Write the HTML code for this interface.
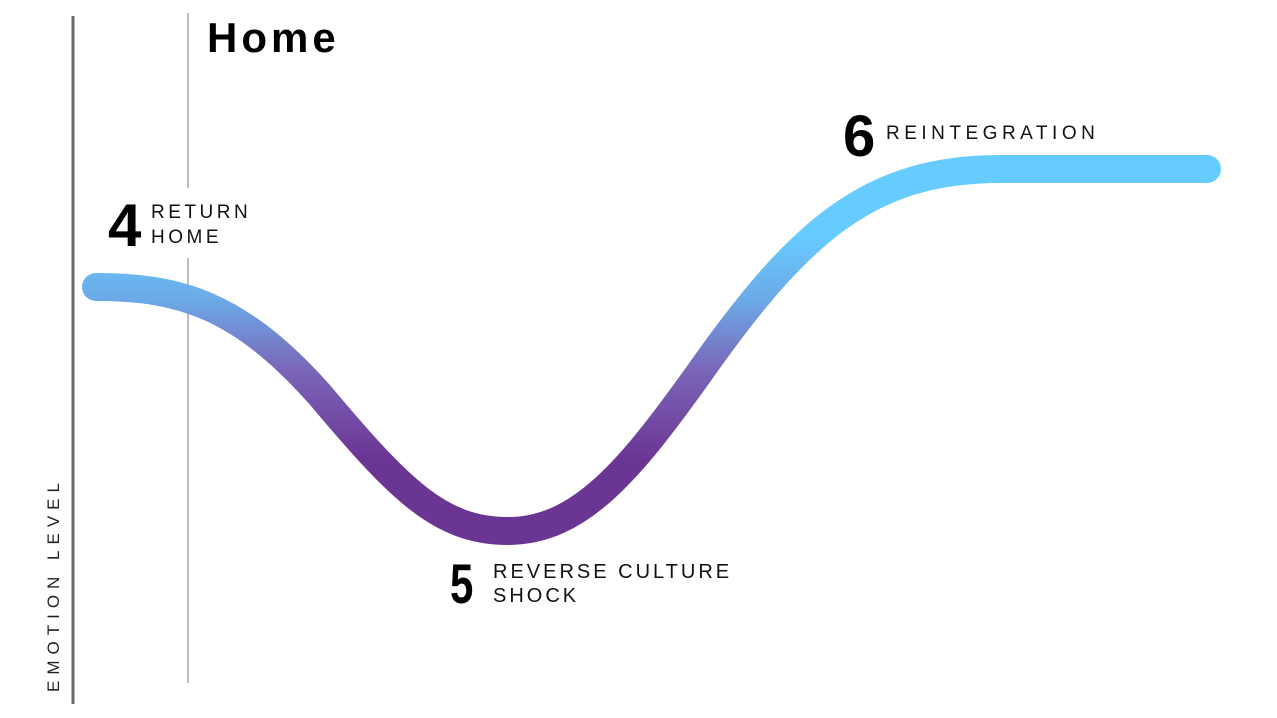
<!DOCTYPE html>
<html><head><meta charset="utf-8"><style>
html,body{margin:0;padding:0;background:#fff;width:1277px;height:718px;overflow:hidden}
svg text{font-family:"Liberation Sans",sans-serif}
</style></head><body>
<svg width="1277" height="718" viewBox="0 0 1277 718" xmlns="http://www.w3.org/2000/svg">
<defs>
<linearGradient id="g" gradientUnits="userSpaceOnUse" x1="0" y1="235" x2="0" y2="460">
<stop offset="0" stop-color="#66ccff"/>
<stop offset="0.3" stop-color="#6ca8e6"/>
<stop offset="0.6" stop-color="#7a66b8"/>
<stop offset="1" stop-color="#6b3594"/>
</linearGradient>
</defs>
<line x1="73" y1="16" x2="73" y2="704" stroke="#6a6a6a" stroke-width="3"/>
<line x1="188" y1="13" x2="188" y2="188" stroke="#bdbdbd" stroke-width="2"/>
<line x1="188" y1="258" x2="188" y2="683" stroke="#bdbdbd" stroke-width="2"/>
<path d="M96,287 C180,287 240,305 320,395 C400,490 440,531 508,531 C580,531 630,470 700,372 C800,230 870,169 1000,169 L1207,169" fill="none" stroke="url(#g)" stroke-width="28" stroke-linecap="round"/>
<text x="207" y="52" font-size="42" font-weight="bold" letter-spacing="4" fill="#000">Home</text>
<text x="108" y="246" font-size="60" font-weight="bold" fill="#000">4</text>
<text x="151" y="218" font-size="19" letter-spacing="3.5" fill="#111">RETURN</text>
<text x="151" y="243" font-size="19" letter-spacing="3.5" fill="#111">HOME</text>
<text x="450" y="603" font-size="56" font-weight="bold" fill="#000" transform="translate(450 0) scale(0.75 1) translate(-450 0)">5</text>
<text x="493" y="578" font-size="20" letter-spacing="3" fill="#111">REVERSE CULTURE</text>
<text x="493" y="602" font-size="20" letter-spacing="3" fill="#111">SHOCK</text>
<text x="843" y="156" font-size="58" font-weight="bold" fill="#000">6</text>
<text x="886" y="139" font-size="19" letter-spacing="4.5" fill="#111">REINTEGRATION</text>
<text transform="translate(59 692) rotate(-90)" font-size="17" letter-spacing="6" fill="#222">EMOTION LEVEL</text>
</svg>
</body></html>
